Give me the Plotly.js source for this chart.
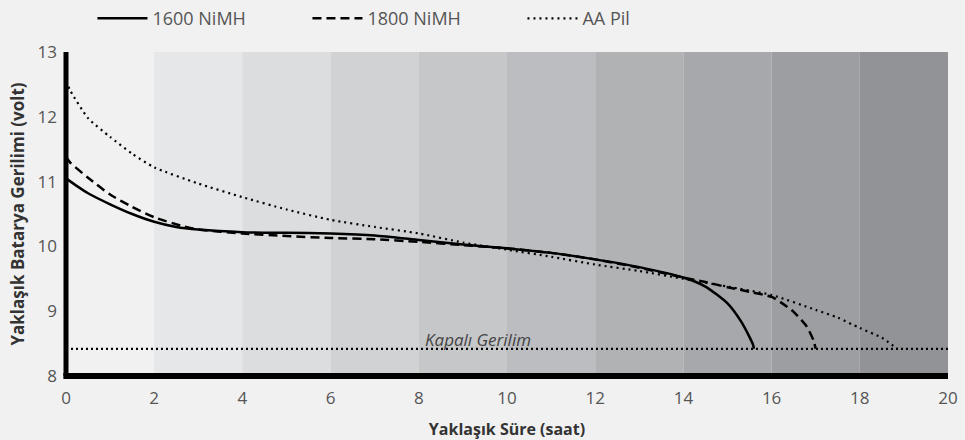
<!DOCTYPE html>
<html>
<head>
<meta charset="utf-8">
<script src="https://cdn.plot.ly/plotly-3.0.1.min.js"></script>
<style>
html,body{margin:0;padding:0;background:#f1f1f1;}
#chart{width:965px;height:440px;}
</style>
</head>
<body>
<div id="chart"></div>
<script>
// Series: 1600 NiMH (solid)
const x1600 = [0,0.25,0.5,1,1.5,2,2.5,3,4,5,6,7,8,9,10,11,12,13,14,14.5,15,15.3,15.5,15.58,15.6];
const y1600 = [11.05,10.93,10.82,10.65,10.5,10.38,10.3,10.26,10.22,10.21,10.2,10.17,10.1,10.03,9.97,9.9,9.8,9.68,9.52,9.38,9.12,8.85,8.6,8.48,8.42];
// Series: 1800 NiMH (dashed)
const x1800 = [0,0.1,0.5,1,1.5,2,2.66,3,4,5,6,7,8,9,10,11,12,13,14,14.5,15,15.5,16,16.2,16.5,16.8,16.95,17];
const y1800 = [11.38,11.29,11.06,10.8,10.61,10.45,10.31,10.26,10.2,10.16,10.13,10.11,10.07,10.02,9.97,9.9,9.8,9.67,9.52,9.45,9.37,9.3,9.22,9.14,8.99,8.76,8.55,8.42];
// Series: AA Pil (dotted)
const xAA = [0,0.1,0.5,1,1.5,2,3,4,5,6,7,8,9,10,11,12,13,14,15,16,17,17.5,18,18.5,18.85];
const yAA = [12.55,12.4,11.98,11.69,11.43,11.22,10.97,10.76,10.57,10.41,10.3,10.2,10.06,9.95,9.84,9.72,9.62,9.5,9.38,9.25,9.02,8.9,8.74,8.59,8.42];
// Cut-off voltage
const cutoffX = [0,20];
const cutoffY = [8.42,8.42];
const cutoffLabel = "Kapalı Gerilim";
// Background bands
const bandStarts = [0,2,4,6,8,10,12,14,16,18];
const bandColors = ["#f1f1f1","#e6e7e8","#dcdddf","#d1d2d4","#c6c7c9","#bcbdc0","#b1b2b4","#a7a8ab","#9d9ea1","#929396"];
const xTicks = [0,2,4,6,8,10,12,14,16,18,20];
const yTicks = [8,9,10,11,12,13];
const names = ["1600 NiMH","1800 NiMH","AA Pil"];

const FONT = "'Open Sans', 'Noto Sans', sans-serif";

const shapes = bandStarts.map((s,i)=>({
  type:'rect', xref:'x', yref:'y', x0:s, x1:s+2, y0:8, y1:13,
  fillcolor:bandColors[i], line:{width:0}, layer:'below'
}));
shapes.push({type:'line', xref:'paper', yref:'paper', x0:0, x1:0, y0:0, y1:1, line:{color:'#000', width:5}, layer:'above'});
shapes.push({type:'line', xref:'paper', yref:'paper', x0:-0.003, x1:1, y0:0, y1:0, line:{color:'#000', width:6}, layer:'above'});

const traces = [
  {x:x1600, y:y1600, name:names[0], mode:'lines', line:{color:'#000', width:2.5, shape:'spline', smoothing:0.6}},
  {x:x1800, y:y1800, name:names[1], mode:'lines', line:{color:'#000', width:2.5, dash:'9px,5px', shape:'spline', smoothing:0.6}},
  {x:xAA, y:yAA, name:names[2], mode:'lines', line:{color:'#000', width:2.2, dash:'2px,4px', shape:'spline', smoothing:0.6}},
  {x:cutoffX, y:cutoffY, name:cutoffLabel, mode:'lines', showlegend:false, line:{color:'#000', width:2.2, dash:'2px,3px'}}
];

const layout = {
  width:965, height:440,
  paper_bgcolor:'#f1f1f1', plot_bgcolor:'#f1f1f1',
  margin:{l:66, r:17, t:52, b:64, autoexpand:false},
  font:{family:FONT, color:'#555', size:17},
  showlegend:true,
  legend:{orientation:'h', x:0.03, y:1.16, xanchor:'left', yanchor:'top',
    font:{size:18, color:'#555', family:FONT}, entrywidth:150, entrywidthmode:'pixels',
    itemwidth:50, bgcolor:'rgba(0,0,0,0)'},
  xaxis:{range:[0,20], tickvals:xTicks, ticktext:xTicks.map(String), showgrid:false, zeroline:false,
    showline:false, ticks:'', tickfont:{size:17, color:'#555'}, ticklabelstandoff:10, automargin:false,
    title:{text:'Yaklaşık Süre (saat)', font:{size:16, color:'#333', family:FONT, weight:'bold'}, standoff:20}},
  yaxis:{range:[8,13], tickvals:yTicks, ticktext:yTicks.map(String), showgrid:false, zeroline:false,
    showline:false, ticks:'', tickfont:{size:17, color:'#555'}, ticklabelstandoff:8, automargin:false,
    title:{text:'Yaklaşık Batarya Gerilimi (volt)', font:{size:17, color:'#333', family:FONT, weight:'bold'}, standoff:8}},
  shapes:shapes,
  annotations:[{x:9.34, y:cutoffY[0], xref:'x', yref:'y', yanchor:'bottom', text:cutoffLabel, showarrow:false,
    font:{size:17, color:'#444', family:FONT, style:'italic'}, yshift:-4}]
};

Plotly.newPlot('chart', traces, layout, {displayModeBar:false, staticPlot:true});
</script>
</body>
</html>
